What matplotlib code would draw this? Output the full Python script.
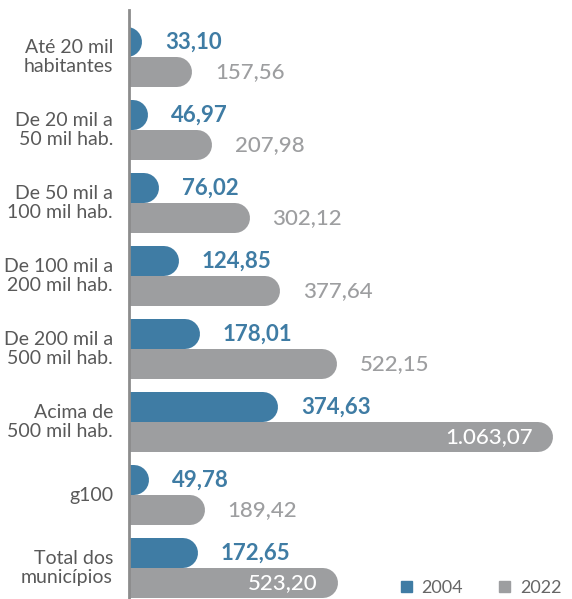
import matplotlib.pyplot as plt
from matplotlib.patches import Patch

categorias = [
    "Até 20 mil\nhabitantes",
    "De 20 mil a\n50 mil hab.",
    "De 50 mil a\n100 mil hab.",
    "De 100 mil a\n200 mil hab.",
    "De 200 mil a\n500 mil hab.",
    "Acima de\n500 mil hab.",
    "g100",
    "Total dos\nmunicípios",
]
valores_2004 = [33.10, 46.97, 76.02, 124.85, 178.01, 374.63, 49.78, 172.65]
valores_2022 = [157.56, 207.98, 302.12, 377.64, 522.15, 1063.07, 189.42, 523.20]
rotulos_2004 = ["33,10", "46,97", "76,02", "124,85", "178,01", "374,63", "49,78", "172,65"]
rotulos_2022 = ["157,56", "207,98", "302,12", "377,64", "522,15", "1.063,07", "189,42", "523,20"]
# 2022 labels written inside the bar (white)
dentro_2022 = [5, 7]

AZUL = "#3f7ca4"
CINZA = "#9d9ea0"
DPI = 100
W, H = 572, 599

fig = plt.figure(figsize=(W / DPI, H / DPI), dpi=DPI)
# axes placed in pixels: left edge at 129, top at 10
ax = fig.add_axes([129 / W, 0, (W - 129) / W, (H - 10) / H])

pitch = 73.0          # px between categories
bar_px = 30.0         # px height of one bar
px_per_x = 0.399
xmax = (W - 129) / px_per_x
ax.set_xlim(0, xmax)
ax.set_ylim((599 - 57) / pitch, (10 - 57) / pitch)

r = bar_px / 2 / px_per_x  # cap radius in data units
lw = bar_px * 72 / DPI
off = bar_px / 2 / pitch

fonte = ["Lato", "DejaVu Sans"]

for i in range(len(categorias)):
    series = [(valores_2004[i], rotulos_2004[i], AZUL, -off, False),
              (valores_2022[i], rotulos_2022[i], CINZA, off, i in dentro_2022)]
    for v, lab, cor, dy, dentro in series:
        y = i + dy
        ax.plot([-200, v - r], [y, y], color=cor, lw=lw, solid_capstyle="round")
        if dentro:
            ax.text(v - 20 / px_per_x, y, lab, color="white", fontsize=16,
                    ha="right", va="center", family=fonte, fontweight="medium")
        else:
            ax.text(v + 23 / px_per_x, y, lab, color=cor, fontsize=16,
                    fontweight="bold" if cor == AZUL else "medium",
                    ha="left", va="center", family=fonte)
    ax.text(-16 / px_per_x, i, categorias[i], ha="right", va="center",
            fontsize=14, color="#595959", linespacing=1.1, family=fonte,
            clip_on=False)

for s in ["top", "right", "bottom"]:
    ax.spines[s].set_visible(False)
ax.spines["left"].set_color("#8c8c8c")
ax.spines["left"].set_linewidth(2)
ax.set_xticks([])
ax.set_yticks([])

handles = [Patch(color=AZUL, label="2004"), Patch(color=CINZA, label="2022")]
leg = fig.legend(handles=handles, loc="lower right", bbox_to_anchor=(1.01, -0.022),
                 ncol=2, frameon=False, handlelength=0.6, handleheight=0.6,
                 handletextpad=0.55, columnspacing=2.0,
                 prop={"family": fonte, "size": 13})
for t in leg.get_texts():
    t.set_color("#666666")

fig.savefig("out.png", dpi=DPI)
